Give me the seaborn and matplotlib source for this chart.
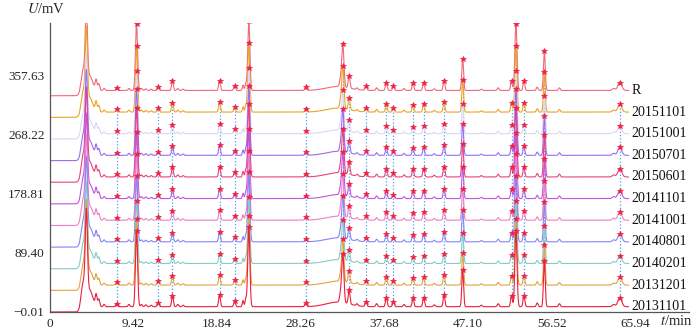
import numpy as np
import seaborn as sns
import matplotlib.pyplot as plt

# samples from top to bottom
samples = ['R', '20151101', '20151001', '20150701', '20150601', '20141101',
           '20141001', '20140801', '20140201', '20131201', '20131101']
line_colors = ['#f0697a', '#e8a526', '#dcd6f5', '#9b6cf0', '#e8437c', '#bf55e0',
               '#ef7fc4', '#8585f5', '#86cbc6', '#e2a23e', '#ec1f3c']
sample_scale = [1.0, 1.0, 0.95, 1.0, 1.05, 1.0, 1.0, 1.0, 0.95, 1.0, 1.15]

# common (marked) peaks: retention time (min), height (mV), width (min)
marked_rt = [7.5, 9.75, 12.2, 13.8, 19.1, 20.8, 22.4, 28.8, 33.0, 33.7, 35.6,
             37.9, 38.7, 40.9, 42.1, 44.4, 46.5, 52.0, 52.5, 53.4, 55.7, 64.2]
marked_height = [4, 100, 5.5, 14, 15, 7, 105, 4.5, 63, 18, 6,
                 12, 6, 11, 12, 15, 48, 14, 100, 14, 60, 12]
marked_width = [0.1, 0.12, 0.1, 0.1, 0.1, 0.1, 0.12, 0.1, 0.12, 0.1, 0.1,
                0.1, 0.1, 0.1, 0.1, 0.1, 0.1, 0.1, 0.12, 0.1, 0.1, 0.22]

# other (unmarked) peaks
minor_rt = [3.75, 4.1, 4.45, 5.2, 5.5, 6.1, 8.9, 10.3, 10.8, 11.4, 14.4, 15.0,
            21.75, 22.05, 32.4, 32.75, 34.6, 36.8, 39.9, 43.3, 48.6, 50.5,
            54.9, 57.4, 63.5]
minor_height = [30, 105, 22, 15, 10, 3, 3, 3, 2.5, 2, 3, 2,
                8, 10, 6, 12, 2.5, 4, 3, 2.5, 2, 4,
                5, 4, 3]
minor_width = [0.25, 0.12, 0.35, 0.1, 0.1, 0.1, 0.1, 0.1, 0.1, 0.1, 0.1, 0.1,
               0.08, 0.08, 1.3, 0.12, 0.1, 0.1, 0.1, 0.1, 0.1, 0.1,
               0.1, 0.1, 0.15]

y_ticks = [-0.01, 89.40, 178.81, 268.22, 357.63]
y_ticklabels = ['\u22120.01', '89.40', '178.81', '268.22', '357.63']
x_ticks = [0, 9.42, 18.84, 28.26, 37.68, 47.10, 56.52, 65.94]
x_ticklabels = ['0', '9.42', '18.84', '28.26', '37.68', '47.10', '56.52', '65.94']

trace_gap = 32.7      # vertical offset between traces (mV)
baseline_shift = 8    # baseline rise after solvent front (mV)
run_end = 65.2

sns.set_style('white')
plt.rcParams['font.family'] = ['Liberation Serif', 'DejaVu Serif']
plt.rcParams['mathtext.fontset'] = 'stix'

t = np.linspace(0, run_end, 6000)


def peaks(rts, hs, ws):
    out = np.zeros_like(t)
    for r, h, w in zip(rts, hs, ws):
        out += h * np.exp(-0.5 * ((t - r) / w) ** 2)
    return out


shape = peaks(marked_rt, marked_height, marked_width) + peaks(minor_rt, minor_height, minor_width)
drift = baseline_shift * np.clip((t - 3.3) / 0.4, 0, 1)

fig = plt.figure(figsize=(7, 3.3), dpi=100)
ax = fig.add_axes([50 / 700, 18 / 330, 639 / 700, 289 / 330])

n = len(samples)
marker_y = []
for i in range(n):
    offset = (n - 1 - i) * trace_gap
    y = offset + drift + sample_scale[i] * shape
    sns.lineplot(x=t, y=y, ax=ax, color=line_colors[i], lw=0.8,
                 estimator=None, sort=False, zorder=2 + i * 0.01)
    marker_y.append(np.interp(marked_rt, t, y))
    ax.text(run_end + 0.3, offset + baseline_shift, samples[i], ha='left', va='center',
            fontsize=10, color='#111111', clip_on=False)

marker_y = np.array(marker_y)
# dotted guide lines from the first sample down to the last
ax.vlines(marked_rt, marker_y[-1], marker_y[1], colors='#4f9cf0', linestyles=':',
          lw=0.9, zorder=1.5)
for i in range(n):
    ax.plot(marked_rt, marker_y[i], ls='none', marker='*', ms=3.8,
            color='#ee2244', mew=0.5, zorder=4)

ax.set_xlim(0, 72.0)
ax.set_ylim(-0.01, 437)
ax.set_xticks(x_ticks)
ax.set_xticklabels(x_ticklabels, fontsize=9.5)
ax.set_yticks(y_ticks)
ax.set_yticklabels(y_ticklabels, fontsize=9.5)
ax.tick_params(axis='both', direction='out', length=3, width=0.8, color='#555555', pad=1)
sns.despine(ax=ax)
for s in ['left', 'bottom']:
    ax.spines[s].set_color('#555555')
    ax.spines[s].set_linewidth(0.9)
ax.set_xlabel('')
ax.set_ylabel('')

fig.text(27 / 700, 1 - 9 / 330, '$U$/mV', ha='left', va='center', fontsize=10.5)
fig.text(660 / 700, 1 - 321 / 330, '$t$/min', ha='left', va='center', fontsize=10.5)

fig.savefig('out.png', dpi=100)
